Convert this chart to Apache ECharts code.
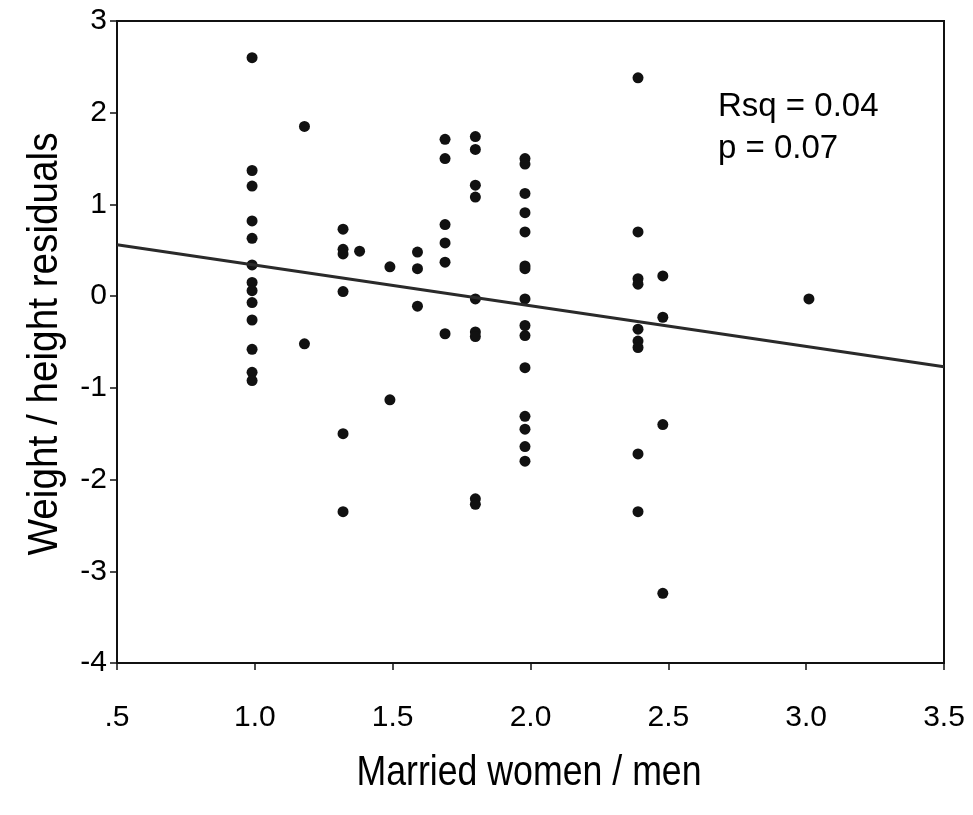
<!DOCTYPE html>
<html>
<head>
<meta charset="utf-8">
<script src="https://cdn.jsdelivr.net/npm/echarts@6/dist/echarts.min.js"></script>
<style>
  html, body { margin: 0; padding: 0; background: #fff; }
  #main { width: 973px; height: 815px; }
</style>
</head>
<body>
<div id="main"></div>
<script>
// x position of each column of points, and the residuals read at that x
const columnX = [0.99, 1.18, 1.32, 1.38, 1.49, 1.59, 1.69, 1.80, 1.98, 2.39, 2.48, 3.01];
const columnY = [
  [2.60, 1.37, 1.20, 0.82, 0.63, 0.34, 0.15, 0.06, -0.07, -0.26, -0.58, -0.83, -0.92],
  [1.85, -0.52],
  [0.73, 0.51, 0.46, 0.05, -1.50, -2.35],
  [0.49],
  [0.32, -1.13],
  [0.48, 0.30, -0.11],
  [1.71, 1.50, 0.78, 0.58, 0.37, -0.41],
  [1.74, 1.60, 1.21, 1.08, -0.03, -0.39, -0.44, -2.21, -2.27],
  [1.50, 1.44, 1.12, 0.91, 0.70, 0.33, 0.30, -0.03, -0.32, -0.43, -0.78, -1.31, -1.45, -1.64, -1.80],
  [2.38, 0.70, 0.19, 0.13, -0.36, -0.49, -0.56, -1.72, -2.35],
  [0.22, -0.23, -1.40, -3.24],
  [-0.03]
];
// fitted line end points
const fitX = [0.5, 3.5];
const fitY = [0.56, -0.77];

const xTickLabels = {0.5: '.5', 1: '1.0', 1.5: '1.5', 2: '2.0', 2.5: '2.5', 3: '3.0', 3.5: '3.5'};

let points = [];
columnX.forEach((x, i) => {
  columnY[i].forEach(y => points.push([x, y]));
});

let myChart = echarts.init(document.getElementById('main'));

const tickFont = {
  color: '#000',
  fontSize: 30,
  fontFamily: 'Liberation Sans, Arial, sans-serif'
};

let option = {
  backgroundColor: '#fff',
  animation: false,
  grid: {
    left: 117, right: 29, top: 21, bottom: 152,
    show: true,
    borderColor: '#111',
    borderWidth: 2
  },
  xAxis: {
    type: 'value',
    min: 0.5, max: 3.5, interval: 0.5,
    axisLine: {onZero: false, lineStyle: {color: '#111', width: 2}},
    axisTick: {show: true, length: 7, lineStyle: {color: '#111', width: 1.5}},
    splitLine: {show: false},
    axisLabel: Object.assign({
      margin: 40,
      formatter: v => xTickLabels[v] || ''
    }, tickFont)
  },
  yAxis: {
    type: 'value',
    min: -4, max: 3, interval: 1,
    axisLine: {onZero: false, lineStyle: {color: '#111', width: 2}},
    axisTick: {show: true, length: 7, lineStyle: {color: '#111', width: 1.5}},
    splitLine: {show: false},
    axisLabel: Object.assign({margin: 10}, tickFont)
  },
  graphic: [
    {
      type: 'text', x: 529, y: 773, scaleX: 0.83,
      style: {
        text: 'Married women / men', fill: '#000',
        fontSize: 43, fontFamily: 'Liberation Sans, Arial, sans-serif',
        align: 'center', verticalAlign: 'middle'
      }
    },
    {
      type: 'text', x: 45, y: 344, rotation: Math.PI / 2, scaleX: 0.9,
      style: {
        text: 'Weight / height residuals', fill: '#000',
        fontSize: 43, fontFamily: 'Liberation Sans, Arial, sans-serif',
        align: 'center', verticalAlign: 'middle'
      }
    },
    {
      type: 'text', left: 718, top: 90,
      style: {
        text: 'Rsq = 0.04', fill: '#000',
        fontSize: 33, fontFamily: 'Liberation Sans, Arial, sans-serif'
      }
    },
    {
      type: 'text', left: 718, top: 132,
      style: {
        text: 'p = 0.07', fill: '#000',
        fontSize: 33, fontFamily: 'Liberation Sans, Arial, sans-serif'
      }
    }
  ],
  series: [
    {
      type: 'scatter',
      symbolSize: 11,
      itemStyle: {color: '#111', opacity: 1},
      data: points,
      z: 2
    },
    {
      type: 'line',
      data: fitX.map((x, i) => [x, fitY[i]]),
      showSymbol: false,
      lineStyle: {color: '#2a2a2a', width: 3},
      z: 3
    }
  ]
};
myChart.setOption(option);
</script>
</body>
</html>
